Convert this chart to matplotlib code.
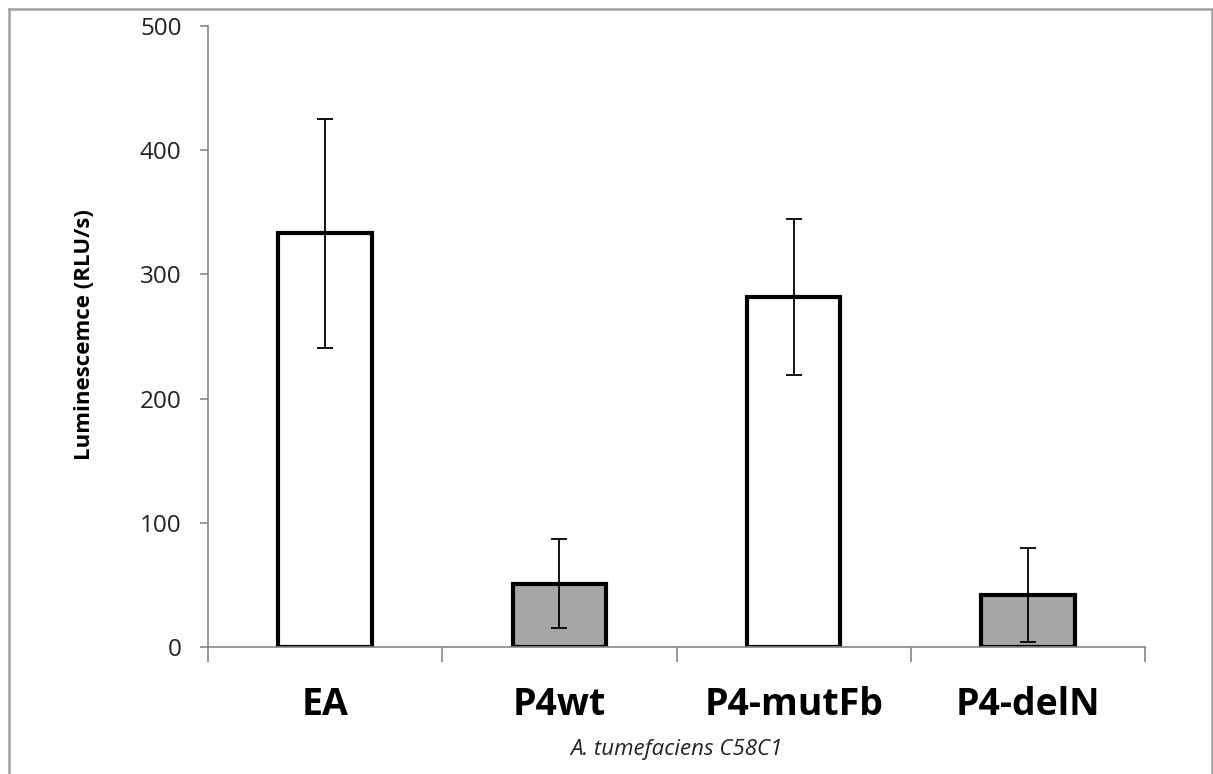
import matplotlib
matplotlib.use("Agg")
import matplotlib.pyplot as plt
from matplotlib.lines import Line2D
import numpy as np

categories = ["EA", "P4wt", "P4-mutFb", "P4-delN"]
values = [333, 51, 282, 42]
errors = [92, 36, 63, 38]
fills = ["white", "#a6a6a6", "white", "#a6a6a6"]
yticks = [0, 100, 200, 300, 400, 500]

plt.rcParams['font.family'] = ['Open Sans', 'DejaVu Sans']

fig = plt.figure(figsize=(12.13, 7.74), dpi=100)
ax = fig.add_axes([208/1213, 1-647/774, (1145-208)/1213, (647-26)/774])

x = np.arange(len(categories))
ax.bar(x, values, width=0.4, color=fills, edgecolor="black", linewidth=3, zorder=2)
ax.errorbar(x, values, yerr=errors, fmt="none", ecolor="black", elinewidth=1.3,
            capsize=6, capthick=1.3, zorder=3)

ax.set_xlim(-0.5, len(categories) - 0.5)
ax.set_ylim(0, 500)
ax.set_yticks(yticks)
ax.set_yticklabels([str(v) for v in yticks], fontsize=17.5, color="#222222")

ax.set_xticks(np.arange(len(categories) + 1) - 0.5)
ax.set_xticklabels([])
ax.set_xticks(x, minor=True)
ax.set_xticklabels(categories, minor=True, fontsize=27, fontweight="bold")
ax.tick_params(axis="x", which="minor", length=0, pad=28)
ax.tick_params(axis="x", which="major", length=11, width=1.2, color="#868686", direction="out")
ax.tick_params(axis="y", length=6, width=1.2, color="#868686", direction="out", pad=13)

for s in ["top", "right"]:
    ax.spines[s].set_visible(False)
for s in ["left", "bottom"]:
    ax.spines[s].set_color("#868686")
    ax.spines[s].set_linewidth(1.2)

fig.text(85/1213, 1-335/774, "Luminescemce (RLU/s)", fontsize=16, fontweight="bold",
         rotation=90, ha="center", va="center")
fig.text(676/1213, 1-750/774, "A. tumefaciens C58C1", fontsize=16, style="italic",
         ha="center", va="center", color="#222222")

# figure border
bc = "#a0a0a0"
l, t, r = 9/1213, 1-9/774, 1211.5/1213
fig.add_artist(Line2D([l, l], [-0.1, t], transform=fig.transFigure, color=bc, lw=1.8))
fig.add_artist(Line2D([l, r], [t, t], transform=fig.transFigure, color=bc, lw=1.8))
fig.add_artist(Line2D([r, r], [-0.1, t], transform=fig.transFigure, color=bc, lw=1.8))

fig.savefig("out.png", dpi=100)
